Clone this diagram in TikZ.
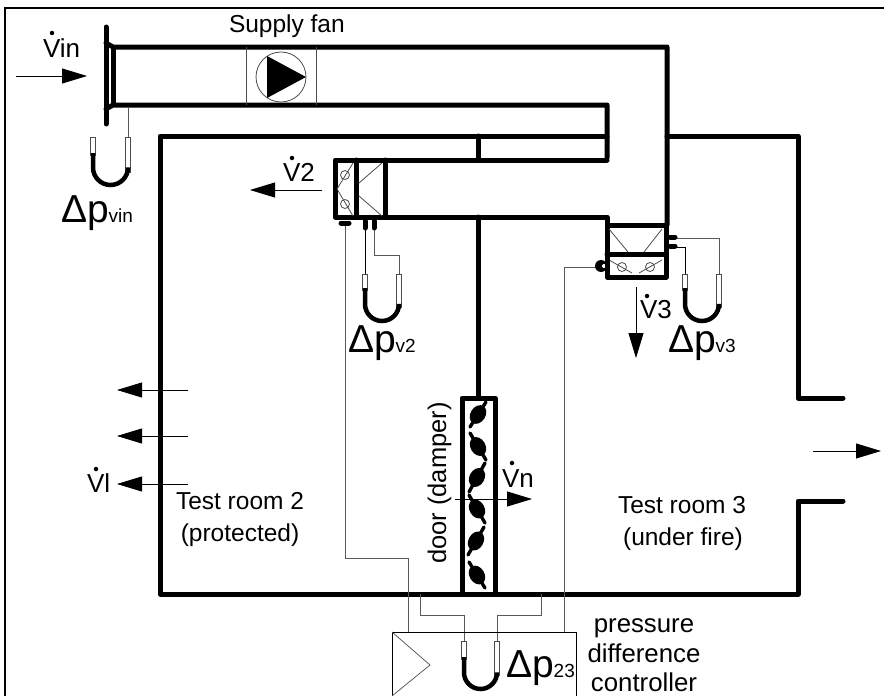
\documentclass[tikz,border=0pt]{standalone}
\usepackage{fontspec}
\setmainfont{Liberation Sans}
\usetikzlibrary{arrows.meta}
\tikzset{
 wall/.style={line width=5pt,line join=round,line cap=round},
 thin wire/.style={line width=0.9pt,draw=black!65},
 vane/.style={line width=0.8pt,draw=black!70},
 flow/.style={line width=0.9pt,-{Triangle[length=25pt,width=15pt]}},
 txt/.style={inner sep=0pt,outer sep=0pt,anchor=base,font=\fontsize{24.5}{29}\selectfont},
 ctl/.style={inner sep=0pt,outer sep=0pt,anchor=base,font=\fontsize{25.8}{29}\selectfont},
 vlab/.style={inner sep=0pt,outer sep=0pt,anchor=base west,font=\fontsize{26}{29}\selectfont},
 big/.style={inner sep=0pt,outer sep=0pt,anchor=base west},
 flowdot/.style={fill=black,circle,inner sep=0pt,minimum size=4.5pt},
}
\newcommand{\delt}[1]{{\fontsize{39}{39}\selectfont Δp}{\fontsize{19}{19}\selectfont #1}}
% xl xr ytop yfl yfr ybot
\newcommand{\mano}[6]{%
 \pgfmathsetmacro{\rr}{(#2-#1)/2}
 \pgfmathsetmacro{\cc}{#6-\rr-2}
 \draw[line width=0.7pt,draw=black!70,fill=white] (#1-2.2,#3) rectangle (#1+2.2,#4+2);
 \draw[line width=0.7pt,draw=black!70,fill=white] (#2-2.2,#3) rectangle (#2+2.2,#5+2);
 \draw[line width=4.5pt] (#1,#4) -- (#1,\cc) arc[start angle=180,end angle=0,radius=\rr] -- (#2,#5);
}
\newcommand{\blade}[4]{%
 \draw[line width=3.4pt,line cap=round] (#1,#2) -- (#3,#4);
 \pgfmathsetmacro{\ang}{atan2(#2-#4,#3-#1)}
 \fill[shift={({(#1+#3)/2},{(#2+#4)/2})},rotate=\ang] (0,0) ellipse (10 and 7.5);
}
\begin{document}
\begin{tikzpicture}[x=1pt,y=-1pt]
\useasboundingbox (0,0) rectangle (884,696);
% frame
\draw[line width=2.3pt] (5,696) -- (5,8) -- (884,8);
% inlet duct
\draw[wall] (106,27) -- (106,124);
\draw[wall,line cap=butt] (113.5,47) -- (113.5,105);
\draw[wall] (106,43) -- (113,47) -- (667,47) -- (667,225);
\draw[wall] (106,109) -- (113,105) -- (607,105) -- (607,158);
% fan
\draw[line width=0.8pt,draw=black!70] (246,47) -- (246,105) (316,47) -- (316,105);
\draw[line width=0.8pt,draw=black!70] (281,77) circle (25);
\fill (267,56) -- (306,77) -- (267,98) -- cycle;
% rooms
\draw[wall] (607,136) -- (160,136) -- (160,594) -- (798,594) -- (798,501) -- (843,501);
\draw[wall] (667,136) -- (798,136) -- (798,398) -- (843,398);
\draw[wall] (478,136) -- (478,160);
\draw[wall] (607,160) -- (335,160) -- (335,217) -- (607,217) -- (607,225);
\draw[wall] (356,160) -- (356,217);
\draw[wall] (385,160) -- (385,217);
% V2 vanes
\draw[vane] (353,163) -- (337,189) -- (353,216);
\draw[vane] (345,175) circle (4.5) (345,204) circle (4.5);
\draw[vane] (382,163) -- (359,183) (359,196) -- (382,216);
% V3 box
\draw[wall] (607,225) rectangle (666,277);
\draw[wall] (607,254) -- (666,254);
\draw[vane] (609,229) -- (628,252) (662,229) -- (644,252);
\draw[vane] (609,260) -- (632,273) (662,260) -- (639,273);
\draw[vane] (622,267) circle (4.5) (650,267) circle (4.5);
% centre wall and damper
\draw[wall] (478,217) -- (478,398);
\draw[wall] (462,594) -- (462,398) -- (495,398) -- (495,594);
\blade{486}{402}{470}{427}
\blade{470}{433}{486}{460}
\blade{485}{463}{469}{492}
\blade{469}{495}{485}{523}
\blade{484}{527}{468}{555}
\blade{469}{562}{485}{588}
% tapping wires
\draw[thin wire] (128,108) -- (128,137);
\draw[thin wire] (345,223) -- (345,558) -- (408,558) -- (408,632);
\draw[thin wire] (374,226) -- (374,255) -- (399,255) -- (399,274);
\draw[thin wire,black] (365,226) -- (365,274);
\draw[thin wire] (672,238) -- (719,238) -- (719,274);
\draw[thin wire,black] (672,247) -- (685,247) -- (685,274);
\draw[thin wire] (564,632) -- (564,267) -- (598,267);
\draw[thin wire] (420,594) -- (420,615) -- (464,615) -- (464,641);
\draw[thin wire] (541,594) -- (541,615) -- (497,615) -- (497,641);
% tapping stubs
\draw[line width=5pt,line cap=round] (341,223) -- (349,223);
\draw[line width=5pt,line cap=round] (365,221) -- (365,228) (374,221) -- (374,228);
\draw[line width=5pt,line cap=round] (670,237) -- (675,237) (670,246) -- (675,246);
\fill (601,266) circle (6);
\fill[white] (604,266) circle (2);
\draw[line width=5pt] (607,254) -- (607,277);
% controller
\draw[line width=0.8pt] (392,696) -- (392,632) -- (576,632) -- (576,696);
\draw[line width=0.7pt,draw=black!70] (392,632) -- (430,665) -- (392,696);
% manometers
\mano{93}{128}{137}{153}{170}{187}
\mano{365}{399}{274}{288}{305}{323}
\mano{685}{719}{274}{288}{305}{323}
\mano{464}{497}{641}{657}{673}{691}
% flows
\draw[flow] (16,76) -- (87,76);
\draw[flow] (322,190) -- (250,190);
\draw[flow] (636,287) -- (636,358);
\draw[flow] (455,499) -- (532,499);
\draw[flow] (813,451) -- (881,451);
\draw[flow] (188,390) -- (117,390);
\draw[flow] (188,436) -- (117,436);
\draw[flow] (188,484) -- (117,484);
% labels
\node[txt,anchor=base west] (fan) at (229,32) {Supply fan};
\node[vlab] (vin) at (43,57) {Vin};
\node[flowdot] (vind) at (52,33) {};
\node[vlab] (v2) at (283,181) {V2};
\node[flowdot] (v2d) at (292,158) {};
\node[vlab] (v3) at (640,318) {V3};
\node[flowdot] (v3d) at (647,296) {};
\node[vlab] (vn) at (502,487) {Vn};
\node[flowdot] (vnd) at (512,463) {};
\node[vlab] (vl) at (87,492) {Vl};
\node[flowdot] (vld) at (96,469) {};
\node[big] (dvin) at (61,222) {\delt{vin}};
\node[big] (dv2) at (348,352) {\delt{v2}};
\node[big] (dv3) at (668,352) {\delt{v3}};
\node[big] (d23) at (506,677) {\delt{23}};
\node[txt] (r2a) at (240,509) {Test room 2};
\node[txt] (r2b) at (240,541) {(protected)};
\node[txt] (r3a) at (682,513) {Test room 3};
\node[txt] (r3b) at (683,545) {(under fire)};
\node[ctl] (c1) at (644,632) {pressure};
\node[ctl] (c2) at (644,662) {difference};
\node[ctl] (c3) at (644,691) {controller};
\node[txt,rotate=90,font=\fontsize{25.5}{29}\selectfont] (door) at (446,483) {door (damper)};
\end{tikzpicture}
\end{document}
